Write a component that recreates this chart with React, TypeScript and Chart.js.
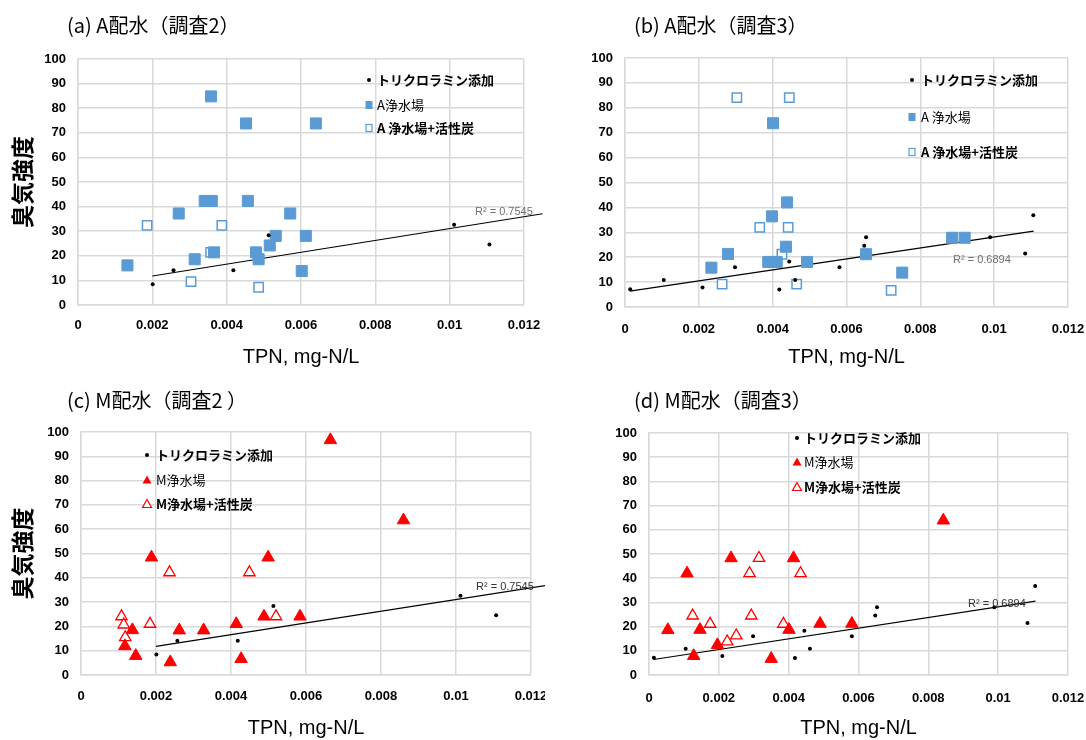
import React, { useEffect, useRef } from 'react';
import { Chart, registerables } from 'chart.js';
Chart.register(...registerables);

// ---------- axes ----------
const X_TICKS = [0, 0.002, 0.004, 0.006, 0.008, 0.01, 0.012];
const X_TICK_LABELS = ['0', '0.002', '0.004', '0.006', '0.008', '0.01', '0.012'];
const Y_TICKS = [0, 10, 20, 30, 40, 50, 60, 70, 80, 90, 100];
const Y_TICK_LABELS = ['0', '10', '20', '30', '40', '50', '60', '70', '80', '90', '100'];
const X_TITLE = 'TPN, mg-N/L';
const Y_TITLE = '臭気強度';

// ---------- trichloramine addition (survey 2: panels a, c) ----------
const TCA2_X = [0.00201, 0.00257, 0.00418, 0.00513, 0.01012, 0.01107];
const TCA2_Y = [8.4, 14.1, 14.1, 28.4, 32.6, 24.6];
const TREND2_X = [0.002, 0.0125];
const TREND2_Y = [11.8, 37.1];
const R2_2 = 'R² = 0.7545';

// ---------- trichloramine addition (survey 3: panels b, d) ----------
const TCA3_X = [0.00014, 0.00105, 0.0021, 0.00298, 0.00418, 0.00445, 0.00461, 0.00581, 0.00648, 0.00653, 0.00989, 0.01084, 0.01106];
const TCA3_Y = [7.1, 10.8, 7.8, 16.0, 7.0, 18.3, 10.8, 16.0, 24.6, 28.0, 28.0, 21.5, 36.8];
const TREND3_X = [0.00013, 0.01107];
const TREND3_Y = [6.4, 30.5];
const R2_3 = 'R² = 0.6894';

// ---------- (a) A distribution, survey 2 ----------
const A2_PLANT_X = [0.00133, 0.00271, 0.00314, 0.00341, 0.0036, 0.00358, 0.00366, 0.00452, 0.00457, 0.00479, 0.00486, 0.00516, 0.00532, 0.00571, 0.00602, 0.00613, 0.0064];
const A2_PLANT_Y = [16.1, 37.2, 18.6, 42.3, 42.3, 84.8, 21.4, 73.8, 42.3, 21.4, 18.6, 24.2, 28.1, 37.2, 13.8, 28.1, 73.8];
const A2_GAC_X = [0.00186, 0.00304, 0.00357, 0.00387, 0.00486];
const A2_GAC_Y = [32.4, 9.5, 21.4, 32.4, 7.2];

// ---------- (b) A distribution, survey 3 ----------
const A3_PLANT_X = [0.00234, 0.00279, 0.00388, 0.00398, 0.00401, 0.00411, 0.00436, 0.00439, 0.00493, 0.00653, 0.00751, 0.00886, 0.0092];
const A3_PLANT_Y = [15.8, 21.3, 18.1, 36.4, 73.8, 18.1, 24.2, 42.0, 18.1, 21.2, 13.8, 27.8, 27.8];
const A3_GAC_X = [0.00263, 0.00303, 0.00365, 0.00425, 0.00445, 0.00442, 0.00465, 0.00721];
const A3_GAC_Y = [9.2, 84.1, 32.0, 21.2, 84.1, 32.0, 9.2, 6.7];

// ---------- (c) M distribution, survey 2 ----------
const M2_PLANT_X = [0.00117, 0.00137, 0.00146, 0.00188, 0.00238, 0.00262, 0.00327, 0.00414, 0.00427, 0.00488, 0.00499, 0.00584, 0.00665, 0.0086];
const M2_PLANT_Y = [11.9, 18.5, 7.9, 48.4, 5.3, 18.4, 18.4, 21.0, 6.6, 24.1, 48.4, 24.1, 96.7, 63.7];
const M2_GAC_X = [0.00108, 0.00114, 0.00118, 0.00184, 0.00236, 0.00449, 0.0052];
const M2_GAC_Y = [24.1, 20.7, 15.5, 21.0, 42.2, 42.2, 24.1];

// ---------- (d) M distribution, survey 3 ----------
const M3_PLANT_X = [0.00054, 0.00109, 0.00128, 0.00146, 0.00196, 0.00235, 0.0035, 0.00401, 0.00414, 0.0049, 0.00581, 0.00843];
const M3_PLANT_Y = [18.6, 42.0, 7.9, 18.7, 12.4, 48.3, 6.7, 18.7, 48.3, 21.2, 21.2, 63.9];
const M3_GAC_X = [0.00125, 0.00175, 0.00224, 0.0025, 0.00288, 0.00293, 0.00315, 0.00385, 0.00434];
const M3_GAC_Y = [24.5, 21.1, 13.8, 16.3, 42.0, 24.5, 48.3, 21.1, 42.0];

const SERIES_TCA = 'トリクロラミン添加';

const BLUE = '#5B9BD5';
const RED = '#FF0000';
const GRID = '#D9D9D9';
const CJK = '"Noto Sans CJK JP", "Noto Sans", sans-serif';
const LAT = '"Liberation Sans", Arial, sans-serif';

const pts = (xs: number[], ys: number[]) => xs.map((x, i) => ({ x, y: ys[i] }));

interface PanelDef {
  x: number; y: number; w: number; h: number;
  area: { l: number; r: number; t: number; b: number };
  title: string; titleX: number; titleY: number;
  yTitle: boolean; xTickPad: number; xTitlePad: number;
  r2: string; r2X: number; r2Y: number; r2Color: string;
  legendX: number; legendTextX: number; legendY: number[];
  labels: string[];
  marker: 'rect' | 'triangle'; color: string;
  tcaX: number[]; tcaY: number[]; trendX: number[]; trendY: number[];
  plantX: number[]; plantY: number[]; gacX: number[]; gacY: number[];
}

const PANELS: PanelDef[] = [
  {
    x: 0, y: 0, w: 545, h: 370, area: { l: 78, r: 524, t: 59, b: 305 },
    title: '(a) A配水（調査2）', titleX: 67, titleY: 25, yTitle: true, xTickPad: 12.3, xTitlePad: 1,
    r2: R2_2, r2X: 475, r2Y: 212, r2Color: '#707070',
    legendX: 369, legendTextX: 377, legendY: [80, 105, 128],
    labels: [SERIES_TCA, 'A浄水場', 'A 浄水場+活性炭'], marker: 'rect', color: BLUE,
    tcaX: TCA2_X, tcaY: TCA2_Y, trendX: TREND2_X, trendY: TREND2_Y,
    plantX: A2_PLANT_X, plantY: A2_PLANT_Y, gacX: A2_GAC_X, gacY: A2_GAC_Y,
  },
  {
    x: 545, y: 0, w: 541, h: 370, area: { l: 80, r: 523, t: 58, b: 307 },
    title: '(b) A配水（調査3）', titleX: 89, titleY: 25, yTitle: false, xTickPad: 14.5, xTitlePad: 1,
    r2: R2_3, r2X: 408, r2Y: 260, r2Color: '#707070',
    legendX: 367, legendTextX: 376, legendY: [80, 117, 152],
    labels: [SERIES_TCA, 'A 浄水場', 'A 浄水場+活性炭'], marker: 'rect', color: BLUE,
    tcaX: TCA3_X, tcaY: TCA3_Y, trendX: TREND3_X, trendY: TREND3_Y,
    plantX: A3_PLANT_X, plantY: A3_PLANT_Y, gacX: A3_GAC_X, gacY: A3_GAC_Y,
  },
  {
    x: 0, y: 370, w: 545, h: 370, area: { l: 81, r: 531, t: 62, b: 305 },
    title: '(c) M配水（調査2 ）', titleX: 67, titleY: 30, yTitle: true, xTickPad: 13.3, xTitlePad: 0,
    r2: R2_2, r2X: 476, r2Y: 217, r2Color: '#333333',
    legendX: 147, legendTextX: 156, legendY: [85, 110, 134],
    labels: [SERIES_TCA, 'M浄水場', 'M浄水場+活性炭'], marker: 'triangle', color: RED,
    tcaX: TCA2_X, tcaY: TCA2_Y, trendX: TREND2_X, trendY: TREND2_Y,
    plantX: M2_PLANT_X, plantY: M2_PLANT_Y, gacX: M2_GAC_X, gacY: M2_GAC_Y,
  },
  {
    x: 545, y: 370, w: 541, h: 370, area: { l: 104, r: 523, t: 63, b: 305 },
    title: '(d) M配水（調査3）', titleX: 89, titleY: 30, yTitle: false, xTickPad: 15.5, xTitlePad: 0,
    r2: R2_3, r2X: 423, r2Y: 234, r2Color: '#333333',
    legendX: 252, legendTextX: 259, legendY: [68, 92, 117],
    labels: [SERIES_TCA, 'M浄水場', 'M浄水場+活性炭'], marker: 'triangle', color: RED,
    tcaX: TCA3_X, tcaY: TCA3_Y, trendX: TREND3_X, trendY: TREND3_Y,
    plantX: M3_PLANT_X, plantY: M3_PLANT_Y, gacX: M3_GAC_X, gacY: M3_GAC_Y,
  },
];

function drawLegendMarker(ctx: CanvasRenderingContext2D, kind: string, x: number, y: number, color: string) {
  ctx.save();
  if (kind === 'dot') {
    ctx.fillStyle = '#000';
    ctx.beginPath();
    ctx.arc(x, y, 2, 0, Math.PI * 2);
    ctx.fill();
  } else if (kind === 'rectFill') {
    ctx.fillStyle = color;
    ctx.fillRect(x - 3.5, y - 4, 7, 8);
  } else if (kind === 'rectOpen') {
    ctx.strokeStyle = color;
    ctx.lineWidth = 1.2;
    ctx.fillStyle = '#fff';
    ctx.fillRect(x - 3, y - 3.5, 6, 7);
    ctx.strokeRect(x - 3, y - 3.5, 6, 7);
  } else if (kind === 'triFill' || kind === 'triOpen') {
    ctx.beginPath();
    ctx.moveTo(x, y - 4.5);
    ctx.lineTo(x + 4.5, y + 3.5);
    ctx.lineTo(x - 4.5, y + 3.5);
    ctx.closePath();
    if (kind === 'triFill') {
      ctx.fillStyle = color;
      ctx.fill();
    } else {
      ctx.fillStyle = '#fff';
      ctx.fill();
      ctx.strokeStyle = color;
      ctx.lineWidth = 1.2;
      ctx.stroke();
    }
  }
  ctx.restore();
}

function Panel({ def }: { def: PanelDef }) {
  const ref = useRef<HTMLCanvasElement | null>(null);
  useEffect(() => {
    const canvas = ref.current;
    if (!canvas) return;
    const d = def;
    const filledRadius = d.marker === 'rect' ? 7.8 : 7.2;
    const openRadius = 6.6;
    const overlay = {
      id: 'overlay',
      afterDraw(chart: any) {
        const ctx: CanvasRenderingContext2D = chart.ctx;
        ctx.save();
        // panel title
        ctx.fillStyle = '#000';
        ctx.textAlign = 'left';
        ctx.textBaseline = 'middle';
        ctx.font = `20px ${CJK}`;
        ctx.fillText(d.title, d.titleX, d.titleY);
        // R² label
        ctx.font = `11px ${LAT}`;
        ctx.fillStyle = d.r2Color;
        ctx.fillText(d.r2, d.r2X, d.r2Y);
        // legend
        const kinds = d.marker === 'rect' ? ['dot', 'rectFill', 'rectOpen'] : ['dot', 'triFill', 'triOpen'];
        const weights = ['bold', 'normal', 'bold'];
        d.labels.forEach((lab, i) => {
          drawLegendMarker(ctx, kinds[i], d.legendX, d.legendY[i], d.color);
          ctx.fillStyle = '#000';
          ctx.font = `${weights[i]} 13px ${CJK}`;
          ctx.textBaseline = 'middle';
          ctx.fillText(lab, d.legendTextX, d.legendY[i]);
        });
        ctx.restore();
      },
    };

    const chart = new Chart(canvas, {
      type: 'scatter',
      data: {
        datasets: [
          {
            label: d.labels[0],
            data: pts(d.tcaX, d.tcaY),
            pointStyle: 'circle',
            pointRadius: 2,
            backgroundColor: '#000',
            borderColor: '#000',
            borderWidth: 0,
            clip: false,
          },
          {
            label: d.labels[1],
            data: pts(d.plantX, d.plantY),
            pointStyle: d.marker,
            pointRadius: filledRadius,
            backgroundColor: d.color,
            borderColor: d.color,
            borderWidth: 1,
            clip: false,
          },
          {
            label: d.labels[2],
            data: pts(d.gacX, d.gacY),
            pointStyle: d.marker,
            pointRadius: openRadius,
            backgroundColor: '#FFFFFF',
            borderColor: d.color,
            borderWidth: d.marker === 'rect' ? 1.5 : 1.3,
            clip: false,
          },
          {
            label: 'trend',
            data: pts(d.trendX, d.trendY),
            showLine: true,
            pointRadius: 0,
            borderColor: '#000',
            borderWidth: 1.2,
            fill: false,
            clip: false,
          } as any,
        ],
      },
      options: {
        responsive: false,
        animation: false,
        events: [],
        layout: { padding: { left: 0, top: d.area.t, right: d.w - d.area.r, bottom: 0 } },
        plugins: { legend: { display: false }, tooltip: { enabled: false }, title: { display: false } },
        scales: {
          x: {
            type: 'linear',
            min: 0,
            max: 0.012,
            afterBuildTicks: (s: any) => { s.ticks = X_TICKS.map((v) => ({ value: v })); },
            afterFit: (s: any) => {
              s.height = d.h - d.area.b;
              s.paddingLeft = 0;
              s.paddingRight = 0;
            },
            ticks: {
              autoSkip: false,
              maxRotation: 0,
              padding: d.xTickPad,
              color: '#000',
              font: { family: LAT, size: 13, weight: 'bold' },
              callback: (_v: any, i: number) => X_TICK_LABELS[i],
            },
            grid: { color: GRID, lineWidth: 1.5, drawTicks: false },
            border: { color: GRID, width: 1.5 },
            title: {
              display: true,
              text: X_TITLE,
              color: '#000',
              font: { family: LAT, size: 20, weight: 'normal' },
              padding: { top: 0, bottom: d.xTitlePad },
            },
          },
          y: {
            type: 'linear',
            min: 0,
            max: 100,
            afterBuildTicks: (s: any) => { s.ticks = Y_TICKS.map((v) => ({ value: v })); },
            afterFit: (s: any) => {
              s.width = d.area.l;
              s.paddingTop = 0;
              s.paddingBottom = 0;
            },
            ticks: {
              padding: 12,
              color: '#000',
              font: { family: LAT, size: 13, weight: 'bold' },
              callback: (_v: any, i: number) => Y_TICK_LABELS[i],
            },
            grid: { color: GRID, lineWidth: 1.5, drawTicks: false },
            border: { color: GRID, width: 1.5 },
            title: {
              display: d.yTitle,
              text: Y_TITLE,
              color: '#000',
              font: { family: CJK, size: 23, weight: 'bold' },
              padding: { top: 8, bottom: 0 },
            },
          },
        },
      } as any,
      plugins: [overlay],
    });
    return () => chart.destroy();
  }, [def]);

  return (
    <canvas
      ref={ref}
      width={def.w}
      height={def.h}
      style={{ position: 'absolute', left: def.x, top: def.y, width: def.w, height: def.h }}
    />
  );
}

export default function App() {
  return (
    <div style={{ position: 'absolute', left: 0, top: 0, width: 1086, height: 740, background: '#fff', overflow: 'hidden' }}>
      {PANELS.map((p, i) => (
        <Panel key={i} def={p} />
      ))}
    </div>
  );
}
